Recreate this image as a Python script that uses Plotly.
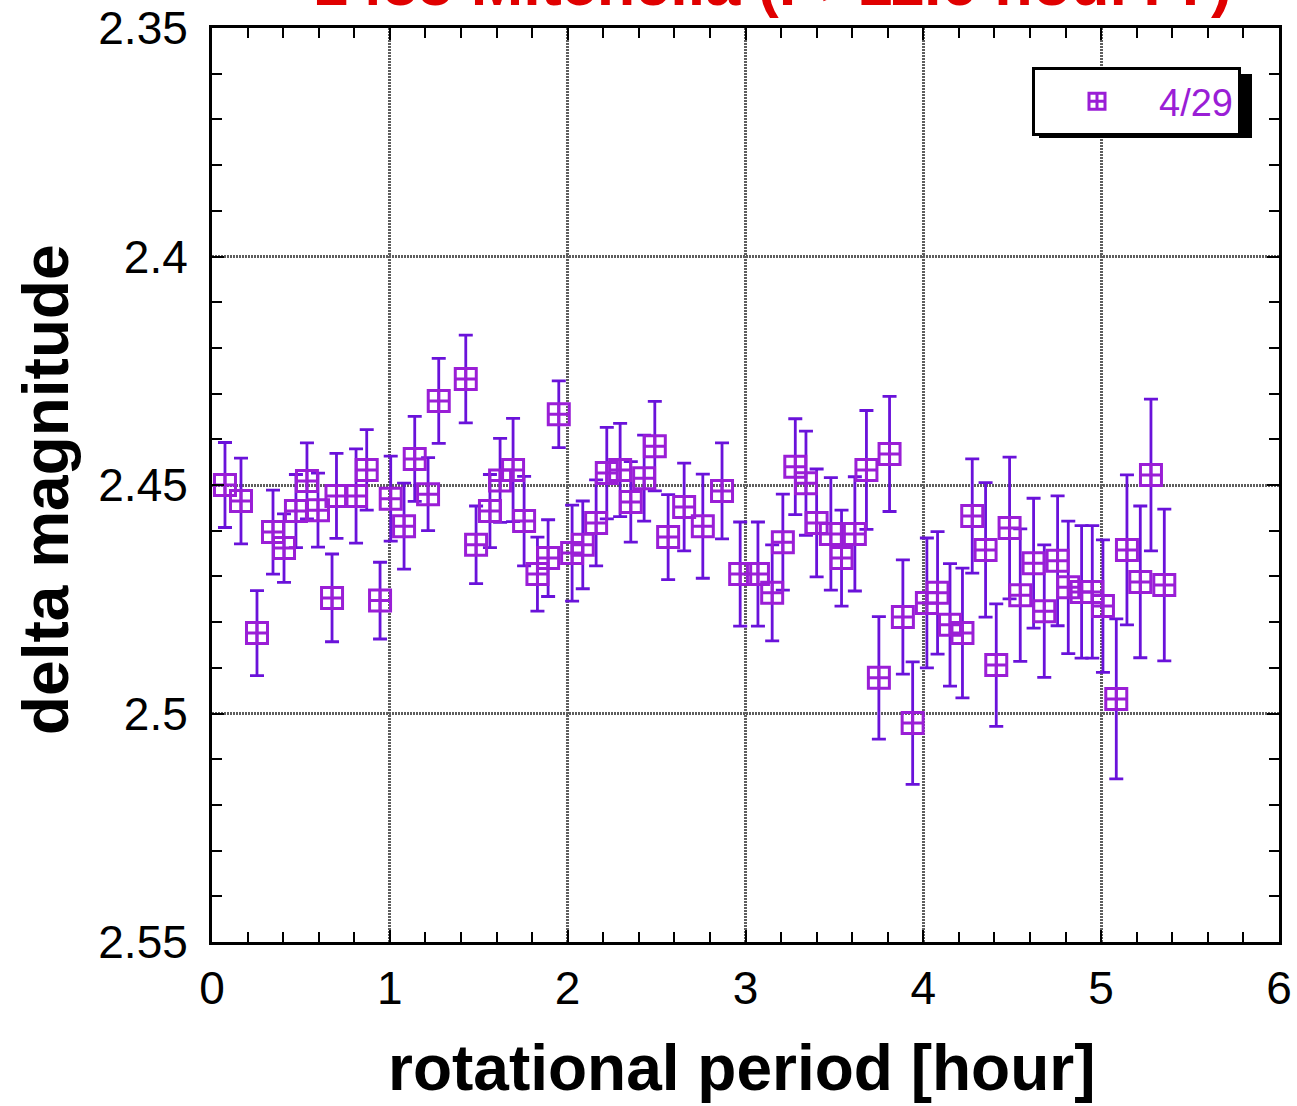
import plotly.graph_objects as go

# rotational phase (hour) / delta magnitude / error
period = [0.073, 0.163, 0.253, 0.343, 0.405, 0.472, 0.534, 0.596, 0.675, 0.70,
          0.81, 0.87, 0.945, 1.005, 1.08, 1.14, 1.215, 1.275, 1.427, 1.485,
          1.563, 1.62, 1.693, 1.755, 1.83, 1.89, 1.95, 2.025, 2.085, 2.16,
          2.22, 2.295, 2.355, 2.43, 2.49, 2.565, 2.655, 2.76, 2.868, 2.97,
          3.07, 3.15, 3.21, 3.28, 3.34, 3.40, 3.48, 3.54, 3.615, 3.68,
          3.75, 3.81, 3.885, 3.94, 4.02, 4.08, 4.15, 4.22, 4.275, 4.35,
          4.41, 4.485, 4.545, 4.62, 4.68, 4.755, 4.815, 4.89, 4.95, 5.01,
          5.085, 5.145, 5.22, 5.28, 5.355]
dmag = [2.4500, 2.4535, 2.4824, 2.4603, 2.4638, 2.4557, 2.4491, 2.4555, 2.4747, 2.4524,
        2.4524, 2.4467, 2.4753, 2.4530, 2.4590, 2.4443, 2.4520, 2.4316, 2.4268, 2.4631,
        2.4557, 2.4490, 2.4467, 2.4579, 2.4695, 2.4660, 2.4345, 2.4649, 2.4631, 2.4583,
        2.4474, 2.4467, 2.4537, 2.4485, 2.4415, 2.4614, 2.4548, 2.4590, 2.4513, 2.4695,
        2.4695, 2.4736, 2.4625, 2.4460, 2.4496, 2.4583, 2.4607, 2.4660, 2.4607, 2.4467,
        2.4922, 2.4432, 2.4789, 2.5021, 2.4758, 2.4736, 2.4806, 2.4824, 2.4568, 2.4642,
        2.4894, 2.4594, 2.4741, 2.4671, 2.4776, 2.4666, 2.4724, 2.4734, 2.4734, 2.4765,
        2.4968, 2.4642, 2.4712, 2.4478, 2.4719]
err = [0.0093, 0.0094, 0.0093, 0.0092, 0.0075, 0.0080, 0.0083, 0.0081, 0.0096, 0.0093,
       0.0103, 0.0088, 0.0084, 0.0093, 0.0094, 0.0093, 0.0080, 0.0093, 0.0096, 0.0085,
       0.0080, 0.0092, 0.0113, 0.0098, 0.0081, 0.0084, 0.0073, 0.0105, 0.0096, 0.0094,
       0.0100, 0.0102, 0.0088, 0.0094, 0.0098, 0.0093, 0.0096, 0.0114, 0.0105, 0.0114,
       0.0114, 0.0105, 0.0105, 0.0105, 0.0114, 0.0118, 0.0123, 0.0105, 0.0125, 0.0130,
       0.0134, 0.0126, 0.0125, 0.0134, 0.0142, 0.0134, 0.0134, 0.0142, 0.0125, 0.0147,
       0.0134, 0.0155, 0.0145, 0.0142, 0.0145, 0.0142, 0.0145, 0.0145, 0.0145, 0.0145,
       0.0175, 0.0164, 0.0166, 0.0166, 0.0166]

series_name = "4/29"
title_text = "1455 Mitchella (P>11.6 hour??)"
x_title = "rotational period [hour]"
y_title = "delta magnitude"
y_tickvals = [2.35, 2.40, 2.45, 2.50, 2.55]
y_ticktext = ["2.35", "2.4", "2.45", "2.5", "2.55"]
x_tickvals = [0, 1, 2, 3, 4, 5, 6]
x_ticktext = ["0", "1", "2", "3", "4", "5", "6"]

FONT = "Liberation Sans, Arial, sans-serif"
MARK = "#9A1ED6"
BAR = "#6A12DA"

W, H = 1297, 1106
L, R, T, B = 212, 18, 28, 164
PW, PH = W - L - R, H - T - B

def px(xp):
    return (xp - L) / PW

def py(yp):
    return 1 - (yp - T) / PH

fig = go.Figure()
fig.add_trace(go.Scatter(
    x=period, y=dmag, mode="markers", name=series_name,
    marker=dict(symbol="square-cross-open", size=21, color=MARK,
                line=dict(width=3, color=MARK)),
    error_y=dict(type="data", array=err, visible=True, color=BAR,
                 thickness=2.8, width=7),
))

axis_common = dict(
    showline=True, linecolor="black", linewidth=3, mirror="allticks",
    ticks="inside", tickcolor="black", tickwidth=2, ticklen=12,
    showgrid=True, gridcolor="#5e5e5e", gridwidth=3, griddash="2px,1px",
    zeroline=False,
    tickfont=dict(family=FONT, size=46, color="black"),
)

fig.update_xaxes(
    range=[0, 6], tickmode="array", tickvals=x_tickvals, ticktext=x_ticktext,
    minor=dict(dtick=0.2, ticks="inside", ticklen=10, tickwidth=2,
               tickcolor="black", showgrid=False),
    ticklabelstandoff=4,
    **axis_common,
)
fig.update_yaxes(
    range=[2.55, 2.35], tickmode="array", tickvals=y_tickvals, ticktext=y_ticktext,
    minor=dict(dtick=0.01, tick0=2.35, ticks="inside", ticklen=10, tickwidth=2,
               tickcolor="black", showgrid=False),
    ticklabelstandoff=12,
    **axis_common,
)

fig.update_layout(
    width=W, height=H,
    margin=dict(l=L, r=R, t=T, b=B, autoexpand=False),
    paper_bgcolor="white", plot_bgcolor="white",
    showlegend=True,
    legend=dict(
        x=px(1032), y=py(67), xanchor="left", yanchor="top",
        bgcolor="white", bordercolor="black", borderwidth=3,
        font=dict(family=FONT, size=38, color=MARK),
        itemwidth=114,
    ),
    annotations=[
        dict(text=title_text, xref="paper", yref="paper", x=px(772), y=py(-17),
             xanchor="center", yanchor="middle", showarrow=False,
             font=dict(family=FONT, size=63, color="#E00000", weight="bold")),
        dict(text=x_title, xref="paper", yref="paper", x=px(742), y=py(1068),
             xanchor="center", yanchor="middle", showarrow=False,
             font=dict(family=FONT, size=64, color="black", weight="bold")),
        dict(text=y_title, xref="paper", yref="paper", x=px(46), y=py(490),
             xanchor="center", yanchor="middle", showarrow=False, textangle=-90,
             font=dict(family=FONT, size=64, color="black", weight="bold")),
    ],
    shapes=[
        dict(type="rect", xref="paper", yref="paper",
             x0=px(1039), x1=px(1252), y0=py(138), y1=py(74),
             fillcolor="black", line=dict(width=0), layer="above"),
    ],
)

fig.write_html("out.html", config={"displayModeBar": False},
               post_script="document.body.style.margin='0';document.body.style.overflow='hidden';")
